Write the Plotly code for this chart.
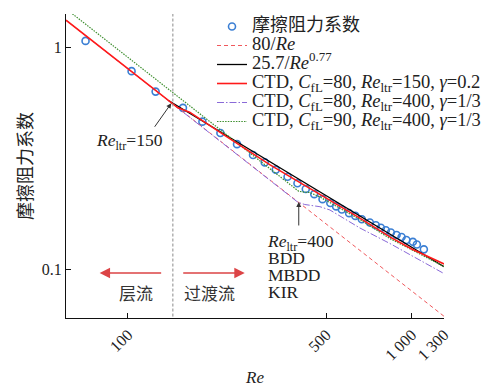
import plotly.graph_objects as go
import math

# ---------------- data ----------------
re_exp = [70.9, 103.0, 125.2, 156.3, 183.0, 211.8, 242.4, 276.0, 303.5, 331.9,
          365.3, 395.8, 423.5, 453.7, 485.1, 516.8, 541.7, 567.4, 602.0, 633.1,
          667.4, 712.2, 747.7, 778.8, 811.0, 844.6, 884.6, 921.4, 957.9, 1009.7,
          1043.0, 1104.0]
f_exp = [1.067, 0.780, 0.631, 0.533, 0.462, 0.411, 0.366, 0.327, 0.303, 0.281,
         0.261, 0.244, 0.230, 0.218, 0.207, 0.199, 0.192, 0.186, 0.179, 0.174,
         0.168, 0.1625, 0.158, 0.154, 0.150, 0.1464, 0.1427, 0.1398, 0.1355, 0.133,
         0.1293, 0.123]

re_lam = [60.5, 1300]
f_lam = [1.322, 0.0615]            # 80/Re

re_turb = [139.4, 1300]
f_turb = [0.574, 0.1028]           # 25.7/Re^0.77

re_ctd1 = [60.5, 150, 165, 183, 222, 316, 437, 558, 657, 838, 1000, 1300]
f_ctd1 = [1.322, 0.533, 0.510, 0.466, 0.397, 0.296, 0.232, 0.192, 0.170, 0.140, 0.1235, 0.1057]

re_ctd2 = [60.5, 380, 397, 420, 445, 475, 515, 581, 657, 838, 1069, 1300]
f_ctd2 = [1.322, 0.2105, 0.2005, 0.1958, 0.1938, 0.1914, 0.185, 0.1684, 0.1535, 0.1307, 0.1101, 0.0957]

re_ctd3 = [60.5, 380, 400, 420, 437, 475, 558, 657, 838, 1300]
f_ctd3 = [1.488, 0.2368, 0.2245, 0.2225, 0.2218, 0.2117, 0.1888, 0.1676, 0.1376, 0.103]

re_ltr_line = 144.0

x_tickvals = [100, 500, 1000, 1300]
x_ticktext = ["100", "500", "1 000", "1 300"]
y_tickvals = [0.1, 1]
y_ticktext = ["0.1", "1"]

# ---------------- styling ----------------
SERIF = "Liberation Serif, Times New Roman, Noto Sans CJK SC"
CJK = "Noto Sans CJK SC, Liberation Serif"
FS = 17.5
LFS = 18.5


def big(s, size=LFS):
    return '<span style="font-size:%spx">%s</span>' % (size, s)


fig = go.Figure()

fig.add_trace(go.Scatter(
    x=re_exp, y=f_exp, mode="markers",
    marker=dict(symbol="circle-open", size=7, color="#3b7fd4", line=dict(width=1.6, color="#3b7fd4")),
    name=big("摩擦阻力系数", 18), legendrank=1))

fig.add_trace(go.Scatter(
    x=re_lam, y=f_lam, mode="lines",
    line=dict(color="#f0585c", width=1, dash="4px,3px"),
    name=big("80/<i>Re</i>"), legendrank=2))

fig.add_trace(go.Scatter(
    x=re_turb, y=f_turb, mode="lines",
    line=dict(color="#000000", width=1.3),
    name=big("25.7/<i>Re</i><sup>0.77</sup>"), legendrank=3))

fig.add_trace(go.Scatter(
    x=re_ctd2, y=f_ctd2, mode="lines",
    line=dict(color="#8a6ad8", width=1, dash="7px,2px,1.5px,2px"),
    name=big("CTD, <i>C</i><sub>fL</sub>=80, <i>Re</i><sub>ltr</sub>=400, <i>γ</i>=1/3"), legendrank=5))

fig.add_trace(go.Scatter(
    x=re_ctd3, y=f_ctd3, mode="lines",
    line=dict(color="#3f8f30", width=1.2, dash="1.5px,1.2px"),
    name=big("CTD, <i>C</i><sub>fL</sub>=90, <i>Re</i><sub>ltr</sub>=400, <i>γ</i>=1/3"), legendrank=6))

fig.add_trace(go.Scatter(
    x=re_ctd1, y=f_ctd1, mode="lines",
    line=dict(color="#ff1a1a", width=1.6),
    name=big("CTD, <i>C</i><sub>fL</sub>=80, <i>Re</i><sub>ltr</sub>=150, <i>γ</i>=0.2"), legendrank=4))

# vertical dashed reference line at the transition Reynolds number
fig.add_trace(go.Scatter(
    x=[re_ltr_line, re_ltr_line], y=[0.01, 10], mode="lines",
    line=dict(color="#8a8a8a", width=1, dash="3px,2px"),
    showlegend=False, hoverinfo="skip"))

L = math.log10
annotations = [
    # Re_ltr = 150 label + arrow
    dict(x=L(101.4), y=L(0.378), text="<i>Re</i><sub>ltr</sub>=150", showarrow=False,
         font=dict(family=SERIF, size=FS, color="#222")),
    dict(x=L(142.2), y=L(0.559), ax=-17.7, ay=25, axref="pixel", ayref="pixel", text="",
         showarrow=True, arrowhead=2, arrowsize=1, arrowwidth=1, arrowcolor="#333"),
    # Re_ltr = 400 label block + arrow
    dict(x=L(303.5), y=L(0.1519), xanchor="left", yanchor="top", align="left",
         text="<br>".join([big("<i>Re</i><sub>ltr</sub>=400", FS), big("BDD", FS),
                           big("MBDD", FS), big("KIR", FS)]),
         showarrow=False, font=dict(family=SERIF, size=13, color="#222")),
    dict(x=L(400), y=L(0.201), ax=0, ay=25, axref="pixel", ayref="pixel", text="",
         showarrow=True, arrowhead=2, arrowsize=1, arrowwidth=1, arrowcolor="#333"),
    # flow regime arrows
    dict(x=L(79.5), y=L(0.0963), ax=63, ay=0, axref="pixel", ayref="pixel", text="",
         showarrow=True, arrowhead=2, arrowsize=1.3, arrowwidth=1.6, arrowcolor="#dc4446"),
    dict(x=L(258), y=L(0.0963), ax=-63, ay=0, axref="pixel", ayref="pixel", text="",
         showarrow=True, arrowhead=2, arrowsize=1.3, arrowwidth=1.6, arrowcolor="#dc4446"),
    dict(x=L(106.5), y=L(0.0784), text="层流", showarrow=False,
         font=dict(family=CJK, size=17, color="#333")),
    dict(x=L(194.2), y=L(0.0784), text="过渡流", showarrow=False,
         font=dict(family=CJK, size=17, color="#333")),
]

fig.update_layout(
    width=484, height=387,
    margin=dict(l=66, r=40, t=14, b=69, autoexpand=False),
    paper_bgcolor="white", plot_bgcolor="white",
    font=dict(family=SERIF, size=16, color="#222"),
    showlegend=True,
    legend=dict(x=(212 - 66) / 378, y=(318 - 12) / 304, xanchor="left", yanchor="top",
                bgcolor="rgba(0,0,0,0)", borderwidth=0,
                font=dict(family=SERIF, size=11.5, color="#222")),
    annotations=annotations,
    xaxis=dict(type="log", range=[L(60.5), L(1300)], automargin=False,
               tickvals=x_tickvals, ticktext=x_ticktext, tickangle=-45,
               ticks="inside", ticklen=5, tickwidth=1.2, tickcolor="#111",
               showline=True, linecolor="#111", linewidth=1.3, mirror=False,
               showgrid=False, zeroline=False,
               tickfont=dict(family=SERIF, size=16, color="#222"),
               title=dict(text="<i>Re</i>", font=dict(family=SERIF, size=17, color="#222"), standoff=14)),
    yaxis=dict(type="log", range=[L(0.0604), L(1.41)], automargin=False,
               tickvals=y_tickvals, ticktext=y_ticktext,
               ticks="inside", ticklen=5, tickwidth=1.2, tickcolor="#111",
               showline=True, linecolor="#111", linewidth=1.3, mirror=False,
               showgrid=False, zeroline=False,
               tickfont=dict(family=SERIF, size=16, color="#222"),
               title=dict(text="摩擦阻力系数", font=dict(family=CJK, size=18, color="#222"), standoff=4)),
)

fig.write_html("out.html")
